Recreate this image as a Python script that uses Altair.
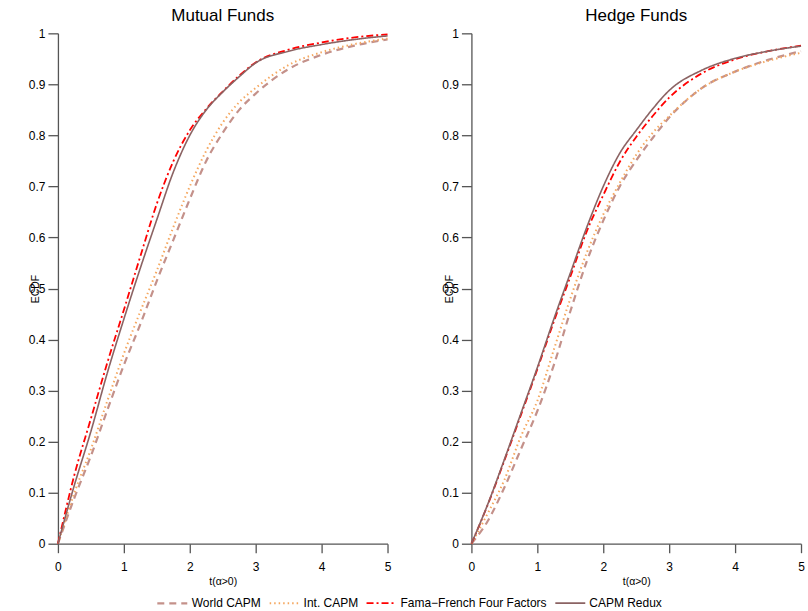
import altair as alt
import pandas as pd

# ECDF of t-statistics for alpha > 0, evaluated on a grid of t values
t_grid = [0, 0.25, 0.5, 0.75, 1.0, 1.25, 1.5, 1.75, 2.0, 2.25, 2.5, 2.75, 3.0, 3.5, 4.0, 4.5, 5.0]

series_names = ["World CAPM", "Int. CAPM", "Fama\u2212French Four Factors", "CAPM Redux"]
series_colors = ["#C4918A", "#F5A860", "#FF0000", "#8B6363"]
series_dashes = [[7, 5], [1.5, 3], [7, 3, 2, 3], [1, 0]]
series_widths = [2.2, 1.6, 2.2, 2.0]

mutual = {
    "World CAPM": [0, 0.09, 0.172, 0.262, 0.35, 0.43, 0.515, 0.595, 0.675, 0.75, 0.805, 0.85, 0.882, 0.93, 0.958, 0.976, 0.988],
    "Int. CAPM": [0, 0.10, 0.185, 0.28, 0.372, 0.455, 0.535, 0.62, 0.70, 0.77, 0.825, 0.865, 0.893, 0.938, 0.963, 0.979, 0.99],
    "Fama\u2212French Four Factors": [0, 0.135, 0.245, 0.355, 0.458, 0.563, 0.666, 0.749, 0.81, 0.852, 0.886, 0.917, 0.943, 0.968, 0.982, 0.992, 0.998],
    "CAPM Redux": [0, 0.115, 0.22, 0.335, 0.44, 0.54, 0.635, 0.728, 0.80, 0.85, 0.885, 0.915, 0.942, 0.965, 0.978, 0.988, 0.995],
}

hedge = {
    "World CAPM": [0, 0.045, 0.11, 0.185, 0.26, 0.35, 0.455, 0.553, 0.633, 0.70, 0.751, 0.795, 0.835, 0.893, 0.925, 0.948, 0.965],
    "Int. CAPM": [0, 0.06, 0.125, 0.21, 0.28, 0.38, 0.48, 0.57, 0.645, 0.707, 0.762, 0.805, 0.838, 0.893, 0.925, 0.946, 0.962],
    "Fama\u2212French Four Factors": [0, 0.077, 0.163, 0.252, 0.342, 0.435, 0.523, 0.612, 0.683, 0.748, 0.797, 0.838, 0.874, 0.922, 0.949, 0.965, 0.976],
    "CAPM Redux": [0, 0.078, 0.165, 0.255, 0.345, 0.44, 0.53, 0.62, 0.70, 0.765, 0.81, 0.852, 0.888, 0.928, 0.951, 0.965, 0.975],
}

x_ticks = [0, 1, 2, 3, 4, 5]
y_ticks = [0, 0.1, 0.2, 0.3, 0.4, 0.5, 0.6, 0.7, 0.8, 0.9, 1.0]

FONT = "Liberation Sans"
AXIS_GREY = "#555555"


def long_table(values):
    rows = []
    for order, name in enumerate(series_names):
        for t, v in zip(t_grid, values[name]):
            rows.append({"series": name, "order": order, "t": t, "ecdf": v})
    return pd.DataFrame(rows)


def panel(values, title):
    return (
        alt.Chart(long_table(values))
        .mark_line(interpolate="monotone")
        .encode(
            x=alt.X(
                "t:Q",
                scale=alt.Scale(domain=[0, 5], nice=False),
                axis=alt.Axis(values=x_ticks, title="t(\u03b1>0)", format="d",
                              tickSize=9, labelPadding=9, labelFlush=False,
                              titleY=38, titleBaseline="middle"),
            ),
            y=alt.Y(
                "ecdf:Q",
                scale=alt.Scale(domain=[0, 1], nice=False),
                axis=alt.Axis(values=y_ticks, title="ECDF", format="~g",
                              tickSize=10, labelPadding=3,
                              titleX=-22, titleY=255.5, titleBaseline="middle"),
            ),
            color=alt.Color("series:N", scale=alt.Scale(domain=series_names, range=series_colors),
                            legend=alt.Legend(title=None)),
            strokeDash=alt.StrokeDash("series:N", scale=alt.Scale(domain=series_names, range=series_dashes),
                                      legend=alt.Legend(title=None)),
            strokeWidth=alt.StrokeWidth("series:N", scale=alt.Scale(domain=series_names, range=series_widths),
                                        legend=alt.Legend(title=None)),
            detail="order:O",
        )
        .properties(
            width=330,
            height=511,
            title=alt.TitleParams(title, fontSize=17, font=FONT, fontWeight="normal",
                                  color="#000000", baseline="alphabetic", offset=5, dy=16),
        )
    )


chart = (
    alt.hconcat(panel(mutual, "Mutual Funds"), panel(hedge, "Hedge Funds"), spacing=84, bounds="flush")
    .resolve_scale(x="independent", y="independent")
    .properties(
        padding={"left": 28, "top": 7, "right": 2, "bottom": 2},
        background="white",
    )
    .configure_view(stroke=None)
    .configure_axis(
        grid=False,
        domainColor=AXIS_GREY,
        domainWidth=1.3,
        tickColor=AXIS_GREY,
        tickWidth=1.3,
        labelFont=FONT,
        labelFontSize=12,
        labelColor="#000000",
        titleFont=FONT,
        titleFontSize=10.5,
        titleFontWeight="normal",
        titleColor="#000000",
    )
    .configure_legend(
        orient="none",
        legendX=98,
        legendY=554,
        direction="horizontal",
        symbolType="stroke",
        symbolSize=900,
        labelFont=FONT,
        labelFontSize=12,
        labelColor="#000000",
        labelOffset=3,
        columnPadding=4,
        padding=0,
    )
)

chart.save("out.html", embed_options={"renderer": "svg", "actions": False})
